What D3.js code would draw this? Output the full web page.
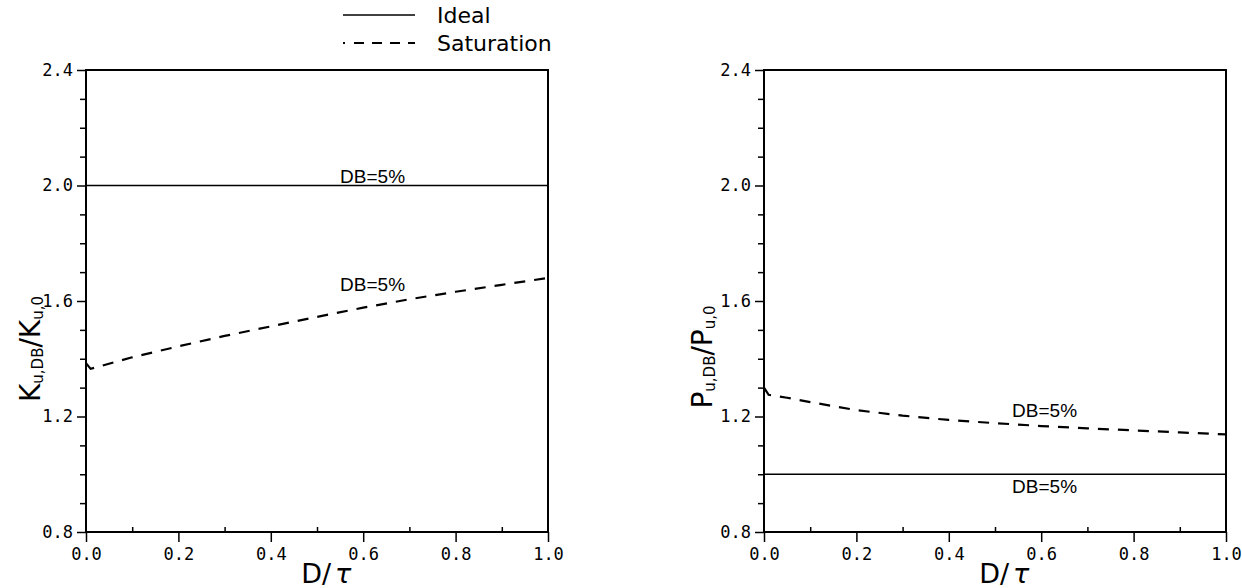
<!DOCTYPE html>
<html>
<head>
<meta charset="utf-8">
<script src="https://cdn.jsdelivr.net/npm/d3@7"></script>
<style>
  body { margin: 0; background: #fff; }
  svg { display: block; }
</style>
</head>
<body>
<svg id="chart" width="1242" height="588"></svg>
<script>
// ---- data ----
const xTickValues = [0.0, 0.2, 0.4, 0.6, 0.8, 1.0];
const yTickValues = [0.8, 1.2, 1.6, 2.0, 2.4];

// gain ratio K_u,DB / K_u,0 versus D/tau
const gainIdealX = [0.0, 1.0];
const gainIdealY = [2.0, 2.0];
const gainSatX = [0.0, 0.01, 0.1, 0.2, 0.3, 0.4, 0.5, 0.6, 0.7, 0.8, 0.9, 1.0];
const gainSatY = [1.385, 1.365, 1.405, 1.443, 1.479, 1.512, 1.545, 1.577, 1.606, 1.632, 1.656, 1.68];

// period ratio P_u,DB / P_u,0 versus D/tau
const periodIdealX = [0.0, 1.0];
const periodIdealY = [1.0, 1.0];
const periodSatX = [0.0, 0.01, 0.05, 0.1, 0.2, 0.3, 0.4, 0.5, 0.6, 0.7, 0.8, 0.9, 1.0];
const periodSatY = [1.30, 1.275, 1.265, 1.25, 1.222, 1.203, 1.188, 1.177, 1.167, 1.159, 1.152, 1.145, 1.138];

const curveLabel = "DB=5%";
const legendNames = ["Ideal", "Saturation"];

// ---- drawing ----
const svg = d3.select("#chart");
const tickFont = "'DejaVu Sans Mono', monospace";
const textFont = "'DejaVu Sans', sans-serif";
const DASH = "11,9";

function zip(xs, ys) { return xs.map((x, i) => [x, ys[i]]); }

function drawPanel(opts) {
  const x = d3.scaleLinear().domain([0, 1]).range([opts.left, opts.left + 462]);
  const y = d3.scaleLinear().domain([0.8, 2.4]).range([532, 70]);
  const g = svg.append("g");

  // frame
  g.append("rect")
    .attr("x", x(0)).attr("y", y(2.4))
    .attr("width", x(1) - x(0)).attr("height", y(0.8) - y(2.4))
    .attr("fill", "none").attr("stroke", "#000").attr("stroke-width", 2);

  // x axis: major ticks outward, minor ticks inward
  const xAxis = g.append("g").attr("transform", `translate(0,${y(0.8)})`)
    .call(d3.axisBottom(x).tickValues(xTickValues).tickSize(10).tickPadding(6)
      .tickFormat(d3.format(".1f")));
  xAxis.select(".domain").remove();
  xAxis.selectAll("line").attr("stroke-width", 1.5);
  xAxis.selectAll("text").attr("font-family", tickFont).attr("font-size", 17).attr("fill", "#000");
  g.append("g").attr("transform", `translate(0,${y(0.8)})`)
    .call(d3.axisTop(x).tickValues(d3.range(1, 10, 2).map(v => v / 10)).tickSize(5).tickFormat(""))
    .call(a => a.select(".domain").remove())
    .selectAll("line").attr("stroke-width", 1.5);

  // y axis: major and minor ticks outward
  const yAxis = g.append("g").attr("transform", `translate(${x(0)},0)`)
    .call(d3.axisLeft(y).tickValues(yTickValues).tickSize(9).tickPadding(4)
      .tickFormat(d3.format(".1f")));
  yAxis.select(".domain").remove();
  yAxis.selectAll("line").attr("stroke-width", 1.5);
  yAxis.selectAll("text").attr("font-family", tickFont).attr("font-size", 17).attr("fill", "#000");
  const minorY = d3.range(8, 25).map(v => v / 10).filter(v => Math.round(v * 10) % 4 !== 0);
  g.append("g").attr("transform", `translate(${x(0)},0)`)
    .call(d3.axisLeft(y).tickValues(minorY).tickSize(6).tickFormat(""))
    .call(a => a.select(".domain").remove())
    .selectAll("line").attr("stroke-width", 1.5);

  // curves
  const line = d3.line().x(d => x(d[0])).y(d => y(d[1]));
  g.append("path").datum(zip(opts.idealX, opts.idealY))
    .attr("d", line).attr("fill", "none").attr("stroke", "#000").attr("stroke-width", 1.6);
  g.append("path").datum(zip(opts.satX, opts.satY))
    .attr("d", line).attr("fill", "none").attr("stroke", "#000").attr("stroke-width", 2.2)
    .attr("stroke-dasharray", DASH);

  // curve labels
  opts.labels.forEach(l => {
    g.append("text").attr("x", x(l[0])).attr("y", y(l[1]) + l[2])
      .attr("font-family", "'Liberation Sans', sans-serif").attr("font-size", 19)
      .text(curveLabel);
  });

  // x axis title
  const xt = g.append("text").attr("x", x(0.52)).attr("y", 583)
    .attr("text-anchor", "middle").attr("font-family", textFont).attr("font-size", 27);
  xt.append("tspan").text("D/");
  xt.append("tspan").attr("font-style", "italic").attr("dx", 4).text("\u03c4");

  // y axis title with subscripts
  const t = g.append("text")
    .attr("transform", `translate(${opts.titleX},${opts.titleY}) rotate(-90)`)
    .attr("text-anchor", "middle").attr("font-family", textFont).attr("font-size", 28);
  t.append("tspan").text(opts.sym);
  t.append("tspan").attr("font-size", 15).attr("dy", 3).text("u,DB");
  t.append("tspan").attr("dy", -3).text("/" + opts.sym);
  t.append("tspan").attr("font-size", 15).attr("dy", 3).text("u,0");
}

drawPanel({
  left: 86, sym: "K", titleX: 40, titleY: 349,
  idealX: gainIdealX, idealY: gainIdealY, satX: gainSatX, satY: gainSatY,
  labels: [[0.55, 2.0, -3], [0.55, 1.62, -4]]
});
drawPanel({
  left: 764, sym: "P", titleX: 712, titleY: 357,
  idealX: periodIdealX, idealY: periodIdealY, satX: periodSatX, satY: periodSatY,
  labels: [[0.537, 1.2, 0], [0.537, 1.0, 19]]
});

// legend
const legend = svg.append("g");
const legendRows = [{ y: 15, dash: null }, { y: 43, dash: "2,9,10,8,10,8,10,8,10" }];
legendRows.forEach((r, i) => {
  legend.append("line").attr("x1", 343).attr("x2", 415).attr("y1", r.y).attr("y2", r.y)
    .attr("stroke", "#000").attr("stroke-width", r.dash ? 2.2 : 1.6)
    .attr("stroke-dasharray", r.dash);
  legend.append("text").attr("x", 437).attr("y", r.y + 8)
    .attr("font-family", textFont).attr("font-size", 22).text(legendNames[i]);
});
</script>
</body>
</html>
